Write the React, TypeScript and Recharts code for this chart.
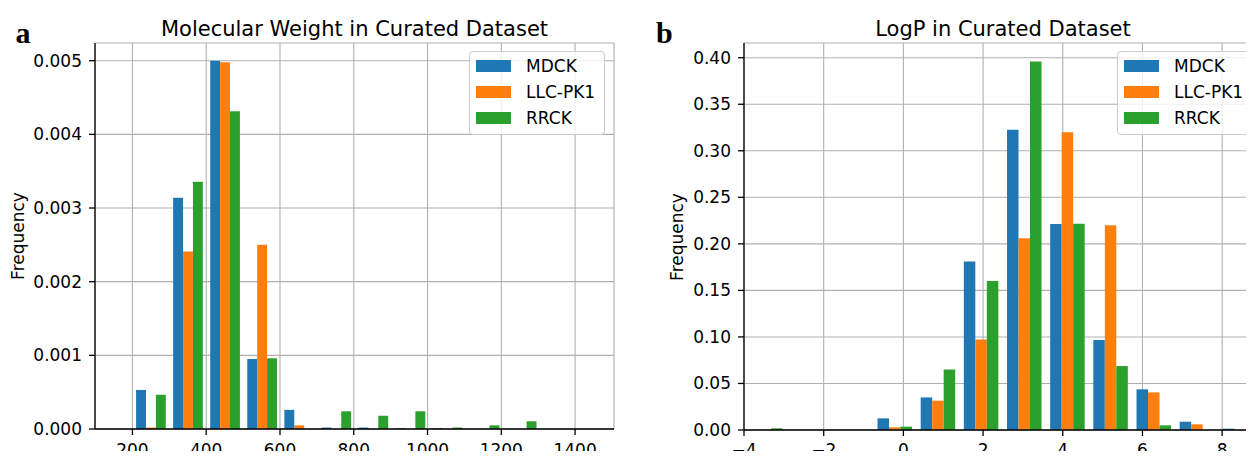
import React from "react";
import { BarChart, Bar, XAxis, YAxis, CartesianGrid, Legend } from "recharts";

const FONT = "'DejaVu Sans', sans-serif";
const SERIES = ["MDCK", "LLC-PK1", "RRCK"];
const COLORS = ["#1f77b4", "#ff7f0e", "#2ca02c"];

// panel a: molecular weight histogram (bin centres, density)
const mwBins = [148.75, 249.25, 349.75, 450.25, 550.75, 651.25, 751.75, 852.25, 952.75, 1053.25, 1153.75, 1254.25, 1354.75, 1455.25];
const mwMdck = [0, 0.00053, 0.00314, 0.005, 0.00095, 0.00026, 0.00002, 0.00002, 0.00001, 0.00001, 0, 0, 0, 0];
const mwLlc = [0, 0.00002, 0.00241, 0.00498, 0.0025, 0.00005, 0, 0, 0, 0, 0, 0, 0, 0];
const mwRrck = [0, 0.000465, 0.003355, 0.004315, 0.00096, 0, 0.00024, 0.00018, 0.00024, 0.00002, 0.00005, 0.000105, 0, 0];
const mwXTicks = [200, 400, 600, 800, 1000, 1200, 1400];
const mwYTicks = [0, 0.001, 0.002, 0.003, 0.004, 0.005];

// panel b: logP histogram
const logpBins = [-3.458, -2.375, -1.292, -0.208, 0.875, 1.958, 3.042, 4.125, 5.208, 6.292, 7.375, 8.458];
const logpMdck = [0, 0, 0, 0.0125, 0.035, 0.181, 0.3226, 0.2214, 0.0966, 0.0437, 0.0089, 0.0014];
const logpLlc = [0, 0, 0, 0.0029, 0.0315, 0.0973, 0.206, 0.32, 0.22, 0.0404, 0.0061, 0];
const logpRrck = [0.0018, 0, 0, 0.0036, 0.065, 0.16, 0.396, 0.2217, 0.0687, 0.005, 0, 0];
const logpXTicks = [-4, -2, 0, 2, 4, 6, 8];
const logpYTicks = [0, 0.05, 0.1, 0.15, 0.2, 0.25, 0.3, 0.35, 0.4];

const buildRows = (bins: number[], a: number[], b: number[], c: number[]) =>
  bins.map((x, i) => ({ x, MDCK: a[i], "LLC-PK1": b[i], RRCK: c[i] }));

const mwData = buildRows(mwBins, mwMdck, mwLlc, mwRrck);
const logpData = buildRows(logpBins, logpMdck, logpLlc, logpRrck);

const tickStyle = { fill: "#000", fontSize: 17, fontFamily: FONT };
const spine = { stroke: "#000", strokeWidth: 1.3 };

const minus = (v: number) => (v < 0 ? "\u2212" + Math.abs(v) : String(v));

function LegendBox({ payload }: any) {
  const items = SERIES.map((s) => (payload || []).find((p: any) => p.value === s)).filter(Boolean);
  return (
    <div
      style={{
        boxSizing: "border-box",
        width: 136,
        border: "1px solid #cccccc",
        borderRadius: 4,
        background: "rgba(255,255,255,0.8)",
        padding: "1px 6px 3px 6px",
        fontFamily: FONT,
        fontSize: 17,
        color: "#000",
      }}
    >
      {items.map((p: any) => (
        <div key={p.value} style={{ display: "flex", alignItems: "center", height: 26 }}>
          <span style={{ width: 35, height: 12, background: p.color, marginRight: 15, flexShrink: 0 }} />
          <span style={{ lineHeight: "26px" }}>{p.value}</span>
        </div>
      ))}
    </div>
  );
}

interface PanelProps {
  left: number;
  data: any[];
  xDomain: [number, number];
  xTicks: number[];
  xFormat: (v: number) => string;
  yMax: number;
  yTicks: number[];
  yDigits: number;
  yWidth: number;
  rightMargin: number;
  xHeight: number;
  xTickMargin: number;
  barSize: number;
  legendLeft: number;
}

function Panel(p: PanelProps) {
  return (
    <div style={{ position: "absolute", left: p.left, top: 0 }}>
      <BarChart
        width={640}
        height={459}
        data={p.data}
        margin={{ top: 43, right: p.rightMargin, bottom: 0, left: 0 }}
        barGap={0}
      >
        <XAxis
          dataKey="x"
          type="number"
          domain={p.xDomain}
          ticks={p.xTicks}
          interval={0}
          allowDataOverflow
          height={p.xHeight}
          tickSize={6}
          tickMargin={p.xTickMargin}
          tick={tickStyle}
          tickFormatter={p.xFormat}
          axisLine={spine}
          tickLine={spine}
        />
        <XAxis
          xAxisId="top"
          orientation="top"
          dataKey="x"
          type="number"
          domain={p.xDomain}
          allowDataOverflow
          height={0}
          tick={false}
          tickLine={false}
          axisLine={spine}
        />
        <YAxis
          type="number"
          domain={[0, p.yMax]}
          ticks={p.yTicks}
          interval={0}
          allowDataOverflow
          width={p.yWidth}
          tickSize={6}
          tickMargin={7}
          tick={tickStyle}
          tickFormatter={(v: number) => v.toFixed(p.yDigits)}
          axisLine={spine}
          tickLine={spine}
        />
        <YAxis
          yAxisId="right"
          orientation="right"
          type="number"
          domain={[0, p.yMax]}
          allowDataOverflow
          width={0}
          tick={false}
          tickLine={false}
          axisLine={spine}
        />
        {SERIES.map((s, i) => (
          <Bar key={s} dataKey={s} name={s} fill={COLORS[i]} barSize={p.barSize} isAnimationActive={false} />
        ))}
        <CartesianGrid stroke="#b0b0b0" strokeWidth={1.1} />
        <Legend
          layout="vertical"
          align="center"
          verticalAlign="middle"
          content={<LegendBox />}
          wrapperStyle={{ left: p.legendLeft, top: 51, width: 136 }}
        />
      </BarChart>
    </div>
  );
}

export default function App() {
  return (
    <div
      style={{
        position: "relative",
        width: 1254,
        height: 459,
        overflow: "hidden",
        margin: -8,
        background: "#fff",
      }}
    >
      <Panel
        left={0}
        data={mwData}
        xDomain={[98.5, 1505.5]}
        xTicks={mwXTicks}
        xFormat={(v) => String(v)}
        yMax={0.00524}
        yTicks={mwYTicks}
        yDigits={3}
        yWidth={95}
        rightMargin={26}
        xHeight={30}
        xTickMargin={9}
        barSize={9.9}
        legendLeft={469}
      />
      <Panel
        left={640}
        data={logpData}
        xDomain={[-4, 9]}
        xTicks={logpXTicks}
        xFormat={minus}
        yMax={0.4158}
        yTicks={logpYTicks}
        yDigits={2}
        yWidth={104}
        rightMargin={18}
        xHeight={29}
        xTickMargin={8}
        barSize={11.5}
        legendLeft={477}
      />
      <svg width={1254} height={459} style={{ position: "absolute", left: 0, top: 0, pointerEvents: "none" }}>
        <text x={15.5} y={43} fontFamily="'Liberation Serif', serif" fontWeight="bold" fontSize={30} fill="#000">
          a
        </text>
        <text x={656} y={43} fontFamily="'Liberation Serif', serif" fontWeight="bold" fontSize={30} fill="#000">
          b
        </text>
        <text x={354.5} y={36} textAnchor="middle" fontFamily={FONT} fontSize={21} fill="#000">
          Molecular Weight in Curated Dataset
        </text>
        <text x={1003} y={36} textAnchor="middle" fontFamily={FONT} fontSize={21} fill="#000">
          LogP in Curated Dataset
        </text>
        <text
          x={0}
          y={0}
          transform="translate(18,236) rotate(-90)"
          textAnchor="middle"
          dominantBaseline="central"
          fontFamily={FONT}
          fontSize={17}
          fill="#000"
        >
          Frequency
        </text>
        <text
          x={0}
          y={0}
          transform="translate(677,237) rotate(-90)"
          textAnchor="middle"
          dominantBaseline="central"
          fontFamily={FONT}
          fontSize={17}
          fill="#000"
        >
          Frequency
        </text>
      </svg>
    </div>
  );
}
